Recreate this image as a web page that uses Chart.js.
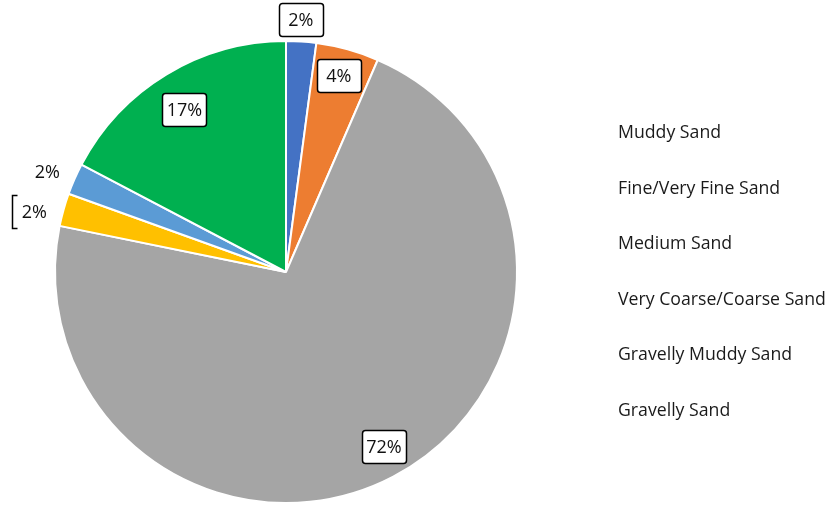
<!DOCTYPE html>
<html><head><meta charset="utf-8">
<script src="https://cdn.jsdelivr.net/npm/chart.js@4.4.0/dist/chart.umd.min.js"></script>
<style>html,body{margin:0;padding:0;background:#fff;}#wrap{width:827px;height:508px;}</style>
</head><body><div id="wrap"><canvas id="c" width="827" height="508"></canvas></div>
<script>
const categories = ['Muddy Sand', 'Fine/Very Fine Sand', 'Medium Sand', 'Very Coarse/Coarse Sand', 'Gravelly Muddy Sand', 'Gravelly Sand'];
const shares = [2.1, 4.4, 71.7, 2.3, 2.2, 17.3];
const sliceColors = ['#4472C4', '#ED7D31', '#A5A5A5', '#FFC000', '#5B9BD5', '#00B050'];

const FONT_FAMILY = '"Open Sans", "Noto Sans", sans-serif';
const LEGEND_SIZE = 17.7;
const LEGEND_TEXT_X = 618;
const LEGEND_PAD = 37.5;

const meas = document.createElement('canvas').getContext('2d');
meas.font = LEGEND_SIZE + 'px ' + FONT_FAMILY;
const longest = Math.max(...categories.map(c => meas.measureText(c).width));
const padRight = 827 - 10 - longest - LEGEND_TEXT_X;
const padLeft = LEGEND_PAD + LEGEND_SIZE / 2 - 46;

const sliceLabels = {
  id: 'sliceLabels',
  afterDatasetsDraw(chart, args, opts) {
    const ctx = chart.ctx;
    const meta = chart.getDatasetMeta(0);
    const data = chart.data.datasets[0].data;
    const total = data.reduce((a, b) => a + b, 0);
    ctx.save();
    ctx.font = opts.font;
    ctx.textAlign = 'center';
    ctx.textBaseline = 'middle';
    meta.data.forEach((arc, i) => {
      const p = arc.getProps(['x', 'y', 'startAngle', 'endAngle', 'outerRadius'], true);
      const mid = (p.startAngle + p.endAngle) / 2 + opts.turn[i] * Math.PI / 180;
      const r = p.outerRadius * opts.radial[i];
      const cx = p.x + Math.cos(mid) * r;
      const cy = p.y + Math.sin(mid) * r;
      const w = opts.boxW, h = opts.boxH;
      const bx = Math.round(cx - w / 2) + 0.5, by = Math.round(cy - h / 2) + 0.5;
      ctx.lineWidth = 1.5;
      ctx.strokeStyle = '#000';
      const frame = opts.frame[i];
      if (frame === 'box') {
        ctx.beginPath();
        ctx.roundRect(bx, by, w, h, 3);
        ctx.fillStyle = '#fff';
        ctx.fill();
        ctx.stroke();
      } else if (frame === 'bracket') {
        ctx.beginPath();
        ctx.moveTo(bx + 5, by);
        ctx.lineTo(bx, by);
        ctx.lineTo(bx, by + h);
        ctx.lineTo(bx + 5, by + h);
        ctx.stroke();
      }
      ctx.fillStyle = '#111';
      ctx.fillText(Math.round(data[i] / total * 100) + '%', cx, cy + 1);
    });
    ctx.restore();
  }
};

new Chart(document.getElementById('c'), {
  type: 'pie',
  data: {
    labels: categories,
    datasets: [{
      data: shares,
      backgroundColor: sliceColors,
      borderColor: '#ffffff',
      borderWidth: 2
    }]
  },
  options: {
    responsive: false,
    animation: false,
    devicePixelRatio: 1,
    radius: 231,
    layout: { padding: { left: padLeft, right: padRight, top: 41, bottom: 5 } },
    plugins: {
      tooltip: { enabled: false },
      legend: {
        position: 'right',
        align: 'center',
        labels: {
          boxWidth: 0,
          boxHeight: 18,
          padding: LEGEND_PAD,
          color: '#1a1a1a',
          font: { family: FONT_FAMILY, size: LEGEND_SIZE },
          generateLabels(chart) {
            const base = Chart.overrides.pie.plugins.legend.labels.generateLabels(chart);
            return base.map(it => Object.assign(it, { fillStyle: 'rgba(0,0,0,0)', strokeStyle: 'rgba(0,0,0,0)', lineWidth: 0 }));
          }
        }
      },
      sliceLabels: {
        font: '18px ' + FONT_FAMILY,
        boxW: 44,
        boxH: 33,
        radial: [1.093, 0.88, 0.868, 1.12, 1.12, 0.83],
        turn: [-0.4, -0.4, -1.7, -2.2, -1.1, -0.85],
        frame: ['box', 'box', 'box', 'bracket', 'none', 'box']
      }
    }
  },
  plugins: [sliceLabels]
});
</script></body></html>
